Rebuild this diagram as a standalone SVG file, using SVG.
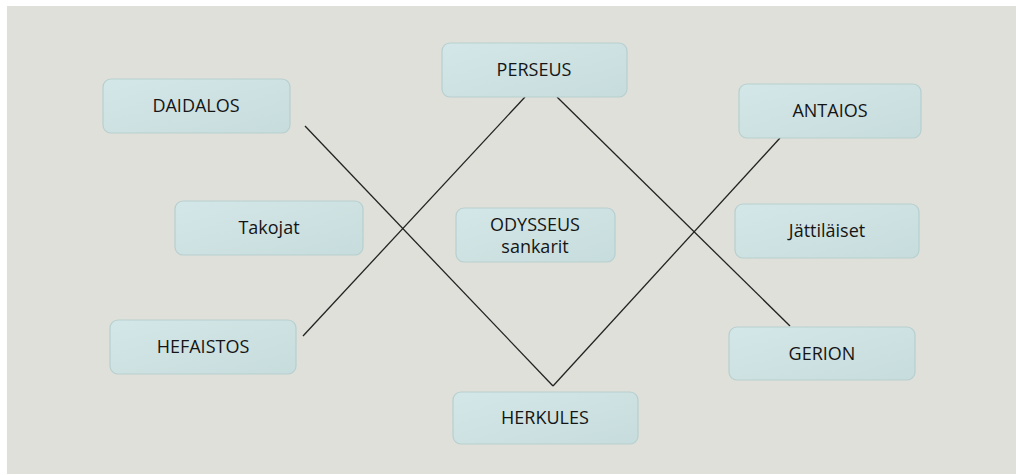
<svg xmlns="http://www.w3.org/2000/svg" width="1016" height="475" viewBox="0 0 1016 475">
<defs>
<linearGradient id="g" x1="0" y1="0" x2="1" y2="1">
<stop offset="0" stop-color="#d4e7e8"/>
<stop offset="1" stop-color="#c7dcdc"/>
</linearGradient>
<style>
.n rect{fill:url(#g);stroke:#b7cfcf;stroke-width:1.2}
.n text{font-family:"Open Sans","Liberation Sans",sans-serif;font-size:18px;fill:#151515;text-anchor:middle}
.c line{stroke:#222;stroke-width:1.3}
</style>
</defs>
<rect x="0" y="0" width="1016" height="475" fill="#ffffff"/>
<rect x="7" y="6" width="1009" height="468" fill="#dfe0d9"/>
<g class="c">
<line x1="305" y1="126" x2="553" y2="386"/>
<line x1="303" y1="336" x2="525" y2="97"/>
<line x1="557" y1="97" x2="790" y2="326"/>
<line x1="780" y1="138" x2="553" y2="386"/>
</g>
<g id="daidalos" class="n"><rect x="103" y="79" width="187" height="54" rx="8"/><text x="196" y="112">DAIDALOS</text></g>
<g id="perseus" class="n"><rect x="442" y="43" width="185" height="54" rx="8"/><text x="534" y="76">PERSEUS</text></g>
<g id="antaios" class="n"><rect x="739" y="84" width="182" height="54" rx="8"/><text x="830" y="117">ANTAIOS</text></g>
<g id="takojat" class="n"><rect x="175" y="201" width="188" height="54" rx="8"/><text x="269" y="234">Takojat</text></g>
<g id="odysseus" class="n"><rect x="456" y="208" width="159" height="54" rx="8"/><text x="535" y="231">ODYSSEUS</text><text x="535" y="253">sankarit</text></g>
<g id="jattilaiset" class="n"><rect x="735" y="204" width="184" height="54" rx="8"/><text x="827" y="237">Jättiläiset</text></g>
<g id="hefaistos" class="n"><rect x="110" y="320" width="186" height="54" rx="8"/><text x="203" y="353">HEFAISTOS</text></g>
<g id="gerion" class="n"><rect x="729" y="327" width="186" height="53" rx="8"/><text x="822" y="360">GERION</text></g>
<g id="herkules" class="n"><rect x="453" y="392" width="185" height="52" rx="8"/><text x="545" y="424">HERKULES</text></g>
</svg>
